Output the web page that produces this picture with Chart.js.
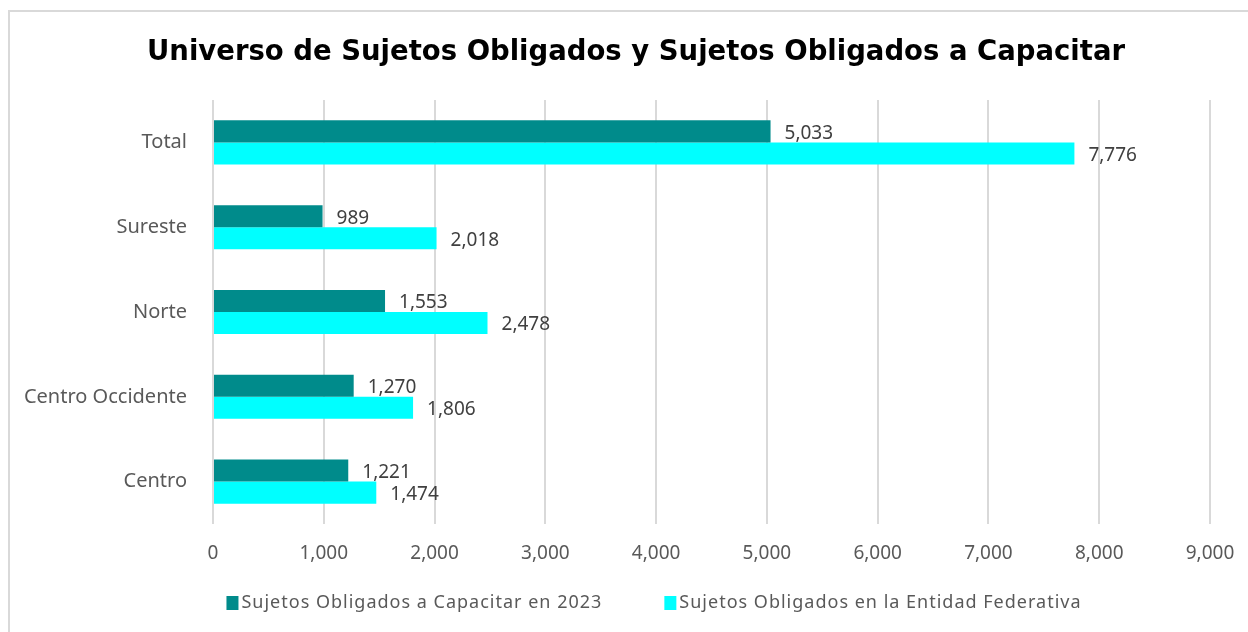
<!DOCTYPE html>
<html>
<head>
<meta charset="utf-8">
<script src="https://cdn.jsdelivr.net/npm/chart.js@4"></script>
<style>
  html, body { margin: 0; padding: 0; background: #fff; }
  #wrap { position: relative; width: 1248px; height: 632px; overflow: hidden; }
  #frame { position: absolute; left: 8px; top: 10px; width: 1260px; height: 660px; border: 2px solid #d9d9d9; }
  canvas { position: absolute; left: 0; top: 0; }
</style>
</head>
<body>
<div id="wrap">
  <div id="frame"></div>
  <canvas id="chart" width="1248" height="632"></canvas>
</div>
<script>
// Regiones (de arriba hacia abajo)
const regiones = ['Total', 'Sureste', 'Norte', 'Centro Occidente', 'Centro'];
const aCapacitar = [5033, 989, 1553, 1270, 1221];
const enEntidad = [7776, 2018, 2478, 1806, 1474];
const xTicks = [0, 1000, 2000, 3000, 4000, 5000, 6000, 7000, 8000, 9000];
const titulo = 'Universo de Sujetos Obligados y Sujetos Obligados a Capacitar';

const fmt = v => v.toLocaleString('en-US');
const bodyFont = '"Noto Sans", "Open Sans", sans-serif';

// etiquetas de valor al final de cada barra
const valueLabels = {
    id: 'valueLabels',
    afterDatasetsDraw(chart) {
        const ctx = chart.ctx;
        ctx.save();
        ctx.font = '19px ' + bodyFont;
        ctx.fillStyle = '#404040';
        ctx.textAlign = 'left';
        ctx.textBaseline = 'middle';
        chart.data.datasets.forEach((ds, i) => {
            chart.getDatasetMeta(i).data.forEach((bar, j) => {
                ctx.fillText(fmt(ds.data[j]), bar.x + 14, bar.y + 2);
            });
        });
        ctx.restore();
    }
};

// titulo (el del plugin solo reserva el espacio) y leyenda abajo
const extras = {
    id: 'extras',
    afterDraw(chart) {
        const ctx = chart.ctx;
        const tb = chart.titleBlock;
        ctx.save();
        ctx.font = 'bold 27.5px "DejaVu Sans", sans-serif';
        ctx.fillStyle = '#000';
        ctx.textAlign = 'center';
        ctx.textBaseline = 'middle';
        ctx.fillText(titulo, chart.width / 2 + 12, (tb.top + tb.bottom - 18) / 2);
        ctx.restore();

        ctx.save();
        ctx.font = '18px ' + bodyFont;
        ctx.letterSpacing = '1px';
        ctx.textBaseline = 'middle';
        ctx.textAlign = 'left';
        const box = 12, gapText = 3, gapItem = 62, y = 603;
        const items = chart.data.datasets.map(ds => ({
            text: ds.label, color: ds.backgroundColor, w: ctx.measureText(ds.label).width
        }));
        const total = items.reduce((s, it) => s + box + gapText + it.w, 0) + gapItem * (items.length - 1);
        let x = 654 - total / 2;
        items.forEach(it => {
            ctx.fillStyle = it.color;
            ctx.fillRect(x, y - 7, box, box + 2);
            x += box + gapText;
            ctx.fillStyle = '#595959';
            ctx.fillText(it.text, x, y);
            x += it.w + gapItem;
        });
        ctx.restore();
    }
};

const ctx = document.getElementById('chart').getContext('2d');
const chart = new Chart(ctx, {
    type: 'bar',
    data: {
        labels: regiones,
        datasets: [{
            label: 'Sujetos Obligados a Capacitar en 2023',
            data: aCapacitar,
            backgroundColor: '#008B8B'
        }, {
            label: 'Sujetos Obligados en la Entidad Federativa',
            data: enEntidad,
            backgroundColor: '#00FFFF'
        }]
    },
    options: {
        indexAxis: 'y',
        responsive: false,
        animation: false,
        layout: { padding: { left: 10, right: 38, top: 23, bottom: 47 } },
        datasets: { bar: { categoryPercentage: 0.52, barPercentage: 1 } },
        scales: {
            x: {
                min: 0,
                max: 9000,
                afterBuildTicks: s => { s.ticks = xTicks.map(v => ({ value: v })); },
                grid: { color: '#d9d9d9', lineWidth: 2, drawTicks: false },
                border: { display: false },
                ticks: {
                    padding: 18,
                    color: '#595959',
                    font: { family: bodyFont, size: 19 },
                    callback: v => fmt(v)
                },
                afterFit: s => { s.height = 61; s.paddingLeft = 0; s.paddingRight = 0; }
            },
            y: {
                grid: { display: false, drawTicks: false },
                border: { display: false },
                ticks: {
                    padding: 26,
                    color: '#595959',
                    font: { family: bodyFont, size: 20 }
                },
                afterFit: s => { s.width = 203; }
            }
        },
        plugins: {
            title: {
                display: true,
                text: titulo,
                color: 'rgba(0,0,0,0)',
                font: { family: '"DejaVu Sans", sans-serif', size: 27.5, weight: 'bold' },
                padding: { top: 11, bottom: 33 }
            },
            legend: { display: false },
            tooltip: { enabled: false }
        }
    },
    plugins: [valueLabels, extras]
});
</script>
</body>
</html>
